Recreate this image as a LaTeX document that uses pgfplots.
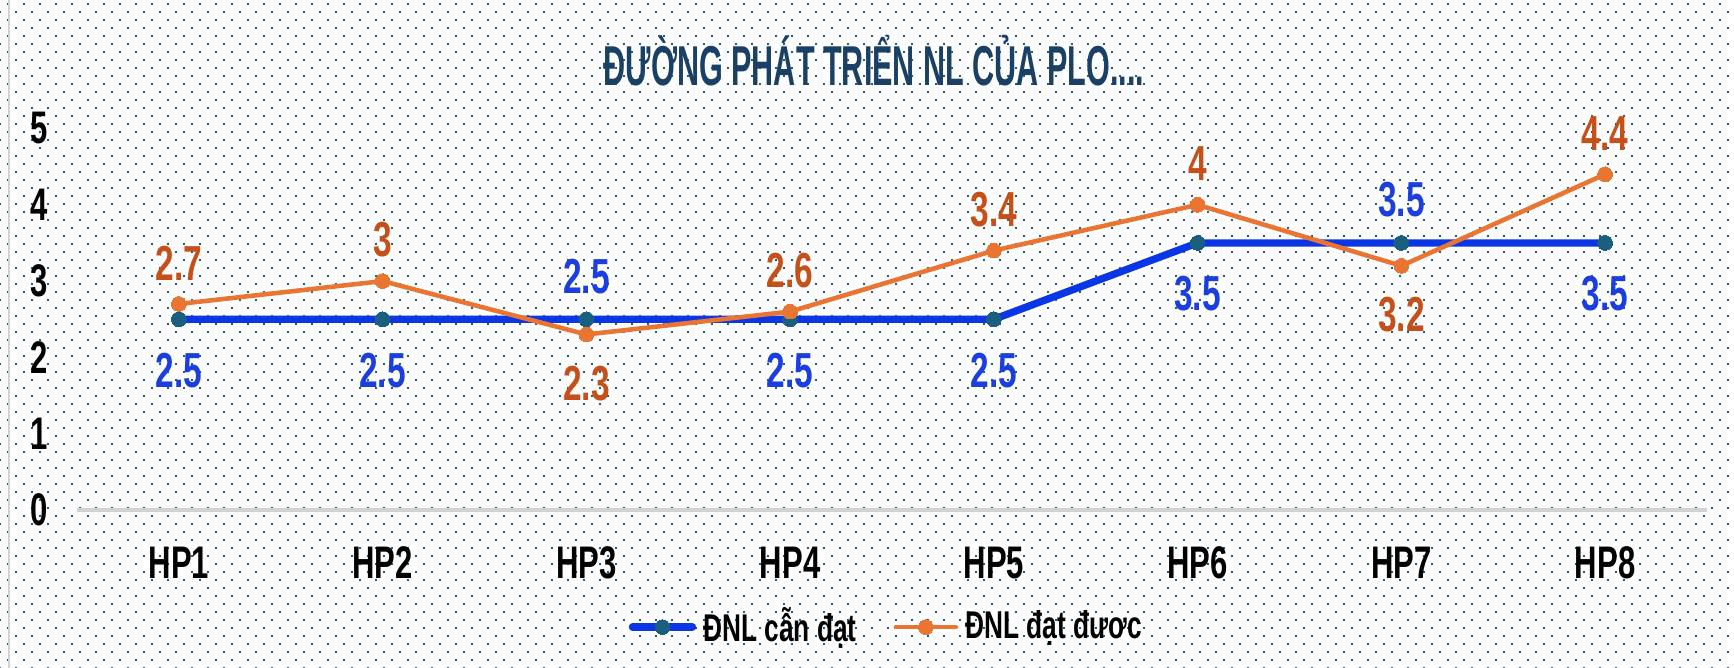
\documentclass[border=0pt]{standalone}
\usepackage{pgfplots}
\pgfplotsset{compat=1.18}
\usepackage{fontspec}
\usepackage{graphicx}
\setmainfont{Liberation Sans}[FakeStretch=0.68]
\usetikzlibrary{patterns}
\definecolor{dotc}{HTML}{1A5E80}
\definecolor{blueline}{HTML}{0A36E6}
\definecolor{bluemark}{HTML}{1A5E80}
\definecolor{orangeline}{HTML}{EA7533}
\definecolor{orangelab}{HTML}{C5501A}
\definecolor{bluelab}{HTML}{1A3EE0}
\definecolor{titlec}{HTML}{1B4066}
\pgfdeclarepatternformonly{mydots}{\pgfpoint{-0.2mm}{-0.2mm}}{\pgfpoint{1.8mm}{1.8mm}}{\pgfpoint{1.6mm}{1.6mm}}{%
  \pgfpathrectangle{\pgfpoint{-0.09mm}{-0.09mm}}{\pgfpoint{0.18mm}{0.18mm}}%
  \pgfpathrectangle{\pgfpoint{0.71mm}{0.71mm}}{\pgfpoint{0.18mm}{0.18mm}}%
  \pgfusepath{fill}}
\begin{document}
\begin{tikzpicture}
\useasboundingbox (-7.7mm,-15.8mm) rectangle (165.7mm,51mm);
\fill[white] (-7.7mm,-15.8mm) rectangle (165.7mm,51mm);
\fill[pattern=mydots, pattern color=dotc] (-7.7mm,-15.8mm) rectangle (165.7mm,51mm);
\draw[gray!35, line width=0.6pt] (-6.8mm,-15.8mm) -- (-6.8mm,51mm);
\begin{axis}[
  at={(0,0)}, anchor=south west,
  scale only axis, width=163mm, height=38.15mm,
  xmin=-0.5, xmax=7.5, ymin=0, ymax=5,
  clip=false,
  axis line style={draw=none},
  tick style={draw=none},
  xtick={0,...,7},
  xticklabels={HP1,HP2,HP3,HP4,HP5,HP6,HP7,HP8},
  ytick={0,1,2,3,4,5},
  /pgf/number format/assume math mode=true,
  tick label style={font=\fontsize{13}{15}\selectfont\bfseries, text=black},
  yticklabel style={anchor=center, xshift=-3.8mm},
  xticklabel style={anchor=center, yshift=-5.3mm},
  legend style={at={(0.498,-0.307)}, anchor=center, draw=none, fill=none,
    legend columns=2, font=\fontsize{11}{13}\selectfont\bfseries,
    /tikz/every even column/.append style={column sep=3mm}},
  legend cell align=left,
]
\draw[gray!35, line width=1pt] (rel axis cs:0,0) -- (rel axis cs:1,0);
\addplot[blueline, line width=2.1pt, line cap=round, mark=*, mark size=2.1pt,
  mark options={fill=bluemark, draw=bluemark, line width=0pt}]
  coordinates {(0,2.5) (1,2.5) (2,2.5) (3,2.5) (4,2.5) (5,3.5) (6,3.5) (7,3.5)};
\addlegendentry{ĐNL cẫn đạt}
\addplot[orangeline, line width=1.3pt, line cap=round, mark=*, mark size=2.1pt,
  mark options={fill=orangeline, draw=orangeline, line width=0pt}]
  coordinates {(0,2.7) (1,3) (2,2.3) (3,2.6) (4,3.4) (5,4) (6,3.2) (7,4.4)};
\addlegendentry{ĐNL đạt đươc}
% blue labels below
\addplot[draw=none, forget plot, nodes near coords,
  every node near coord/.append style={anchor=center, yshift=-5.1mm, text=bluelab, font=\fontsize{14}{16}\selectfont\bfseries}]
  coordinates {(0,2.5) (1,2.5) (3,2.5) (4,2.5) (5,3.5) (7,3.5)};
% blue labels above
\addplot[draw=none, forget plot, nodes near coords,
  every node near coord/.append style={anchor=center, yshift=4.3mm, text=bluelab, font=\fontsize{14}{16}\selectfont\bfseries}]
  coordinates {(2,2.5) (6,3.5)};
% orange labels above
\addplot[draw=none, forget plot, nodes near coords,
  every node near coord/.append style={anchor=center, yshift=4.1mm, text=orangelab, font=\fontsize{14}{16}\selectfont\bfseries}]
  coordinates {(0,2.7) (1,3) (3,2.6) (4,3.4) (5,4) (7,4.4)};
% orange labels below
\addplot[draw=none, forget plot, nodes near coords,
  every node near coord/.append style={anchor=center, yshift=-4.9mm, text=orangelab, font=\fontsize{14}{16}\selectfont\bfseries}]
  coordinates {(2,2.3) (6,3.2)};
\end{axis}
\node[text=titlec, font=\fontsize{16}{18}\selectfont\bfseries, anchor=center] at (79.7mm,44.9mm)
  {\scalebox{0.8}[1]{ĐƯỜNG PHÁT TRIỂN NL CỦA PLO....}};
\end{tikzpicture}
\end{document}
